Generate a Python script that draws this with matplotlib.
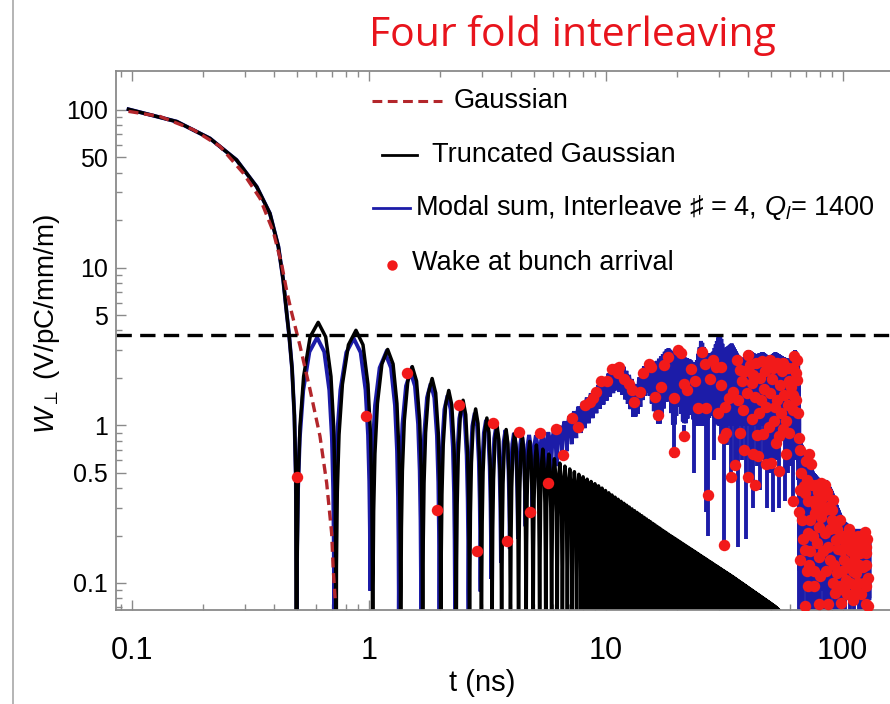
import numpy as np
import matplotlib.pyplot as plt
from matplotlib.lines import Line2D

plt.rcParams['font.family'] = ['Liberation Sans', 'DejaVu Sans']
plt.rcParams['mathtext.fontset'] = 'custom'
plt.rcParams['mathtext.rm'] = 'Liberation Sans'
plt.rcParams['mathtext.it'] = 'Liberation Sans:italic'

# ---- values ----
# Gaussian wake (red dashed)
gauss_t = [0.097, 0.1316, 0.182, 0.236, 0.296, 0.348, 0.396, 0.430, 0.452,
           0.473, 0.513, 0.565, 0.623, 0.665, 0.698, 0.709, 0.722]
gauss_w = [98, 91, 75, 58.8, 39.7, 27.5, 16.9, 10.4, 7.0, 5.2, 3.2, 1.70,
           0.855, 0.431, 0.207, 0.121, 0.08]

# common first descent of truncated Gaussian and modal sum
head_t = [0.097, 0.155, 0.214, 0.277, 0.337, 0.383, 0.416, 0.436, 0.451,
          0.462, 0.475, 0.486, 0.493]
head_w = [101, 84.4, 66, 48.2, 32.6, 22.1, 13.6, 8.35, 5.13, 3.7, 2.3,
          1.15, 0.45]

# truncated Gaussian: zeros, lobe spacing and lobe-top envelope
trunc_zeros = [0.497, 0.728, 1.04]
trunc_end = 58
lobe_step = 0.325
trunc_top_t = [0.593, 0.866, 1.198, 1.49, 1.845, 2.17, 2.81, 3.36, 4.3,
               5.28, 6.42, 9.46, 18.1, 34.5, 51.8, 60]
trunc_top_w = [4.54, 4.08, 3.04, 2.41, 1.99, 1.67, 1.28, 1.03, 0.86,
               0.73, 0.574, 0.408, 0.207, 0.109, 0.071, 0.058]

# modal sum: zeros, upper and lower envelope of the beating, deep dips
modal_zeros = [0.497, 0.715, 1.015]
modal_end = 130
modal_hi_t = [0.585, 0.85, 1.17, 1.49, 1.82, 2.15, 2.8, 3.4, 4.0, 5.0, 6.0,
              6.8, 7.8, 9.0, 10.2, 11.0, 11.8, 12.8, 13.4, 14.3, 15.2, 16.2,
              17.0, 18.3, 19.3, 20.3, 21.5, 22.8, 24.0, 25.3, 26.5, 28.4,
              30.3, 31.5, 34.0, 36, 38, 40, 43, 46, 49, 52, 56, 60, 63, 65,
              65.8, 70, 75, 80, 85, 90, 95, 100, 110, 120, 127, 130]
modal_hi_w = [3.6, 3.6, 2.86, 2.2, 1.85, 1.55, 1.2, 1.0, 0.9, 0.86, 0.92,
              1.08, 1.35, 1.7, 2.1, 2.45, 2.4, 2.0, 1.75, 2.3, 2.6, 2.5,
              2.7, 3.1, 2.9, 3.2, 2.7, 2.6, 2.4, 3.5, 2.8, 2.9,
              3.9, 3.0, 3.3, 2.8, 2.6, 3.0, 2.8, 2.9, 2.7, 2.9, 2.7, 2.6, 3.0,
              2.6, 0.8, 0.65, 0.5, 0.45, 0.45, 0.38, 0.3, 0.25, 0.22, 0.22,
              0.22, 0.18]
modal_lo_t = [0.5, 0.72, 1.0, 1.35, 1.6, 2.4, 2.6, 2.9, 3.2, 3.6, 4.2, 4.8,
              5.5, 6.4, 7.2, 8.2, 9.2, 10.2, 11.0, 11.8, 12.8, 13.3, 14.3,
              15.2, 16.2, 16.7, 17.7, 18.5, 19.4, 20.3, 21.5, 22.8, 24, 26,
              28, 30, 35, 40, 45, 50, 55, 60, 65, 65.8, 70, 80, 90, 100, 110,
              120, 130]
modal_lo_w = [0.03, 0.11, 0.12, 0.07, 0.04, 0.05, 0.075, 0.095, 0.11, 0.15,
              0.2, 0.28, 0.45, 0.62, 0.8, 1.0, 1.25, 1.5, 1.7, 1.6, 1.3, 1.1,
              1.5, 1.7, 1.2, 1.0, 1.4, 1.6, 1.0, 1.5, 1.0, 1.3, 1.0, 1.0,
              1.2, 1.0, 1.0, 1.0, 1.0, 1.0, 1.0, 1.0, 1.0, 0.12, 0.1, 0.09,
              0.09, 0.08, 0.08, 0.08, 0.08]
dip_t = [19.4, 21.5, 23.5, 24.6, 26.5, 26.9, 28.7, 30.8, 31.6, 32.5, 33.9,
         35.0, 36.2, 37.5, 39.0, 40.5, 42.0, 43.5, 45.0, 46.5, 47.8, 49.5,
         51.0, 52.5, 54.0, 55.5, 57, 58.5, 60, 61.5, 63, 64.5, 65.5,
         66.5, 68, 70.5, 72, 74, 76.5, 78, 80, 83, 86, 88, 92, 95, 98, 102,
         107, 112, 117, 121, 125, 128]
dip_w = [0.62, 0.8, 0.5, 1.0, 0.28, 0.2, 0.6, 0.8, 0.17, 0.75, 0.45,
         0.55, 0.17, 0.6, 0.19, 0.45, 0.3, 0.55, 0.39, 0.6, 0.3, 0.5,
         0.28, 0.6, 0.3, 0.8, 0.33, 0.5, 0.55, 0.33, 0.6, 0.45, 0.04,
         0.04, 0.04, 0.04, 0.04, 0.04, 0.05, 0.04, 0.05, 0.04, 0.06, 0.05,
         0.04, 0.04, 0.05, 0.04, 0.05, 0.04, 0.04, 0.05, 0.04, 0.04]

# wake at bunch arrival (red dots)
dots_t = [0.497, 0.971, 1.446, 1.935, 2.41, 2.87, 3.36, 3.82, 4.32, 4.79,
          5.28, 5.7, 6.2, 6.6, 7.2, 7.66, 8.18, 8.59, 8.87, 9.14, 9.58, 10.1,
          10.6, 10.9, 11.3, 11.4, 12.0, 12.6, 12.9, 13.2, 13.9, 14.4, 15.2,
          15.6, 16.2, 16.7, 17.2, 17.7, 18.3, 19.4, 19.4, 20.1, 20.7, 21.3,
          21.5, 22.1, 22.8, 23.9, 24.6, 25.6, 26.2, 26.5, 26.9, 27.5, 28.4,
          29.3, 29.9, 30.8, 30.8, 31.2, 31.6, 32.0, 32.3, 33.2, 33.9, 34.5,
          35.0, 36.9, 38.1, 40.0, 40.0, 40.6, 42.0, 42.0, 42.8, 43.5, 44.3,
          45.8, 46.5, 47.3, 48.1, 48.8, 50.4, 51.3, 52.2, 53.0, 53.9, 55.6,
          56.6, 57.6, 57.6, 60.5, 61.5, 61.5, 62.5, 63.4, 63.4, 64.4, 65.3,
          65.3, 66.3, 66.3, 66.3, 68.4, 69.2, 69.2, 69.2, 70.0, 71.3, 71.3,
          71.3, 72.2, 72.2, 73.5, 74.6, 76.0, 76.3, 77.3, 79.5, 79.5, 79.5,
          81.2, 81.2, 83.9, 83.9, 86.8, 86.8, 87, 89.8, 90.9, 91, 93, 93.7,
          95, 99.5, 101, 101, 103, 111, 111, 114, 114, 114, 118, 122, 124,
          126, 126, 126, 126, 128, 128,
          35.7, 37.5, 38.8, 39.3, 41.3, 41.3, 43.0, 44.9, 45.2, 47.0, 47.7,
          49.5, 49.5, 50.9, 51.8, 52.6, 54.5, 55.0, 56.0, 56.2, 58.5, 58.5,
          59.5, 59.5, 62.0, 62.0, 63.9, 64.6, 36.2, 37.0, 44.0, 46.0, 50.0,
          54.0, 38.5, 42.5,
          67, 67.5, 68, 70.5, 70.5, 73, 73, 74, 75, 75.5, 77, 78, 78.5, 80.3,
          80.5, 82.5, 82.5, 84.5, 85, 85.5, 88, 88.5, 90, 92, 92, 94.5, 96,
          97, 97.5, 99, 100, 103, 105, 106, 107, 108, 109, 110, 112, 116,
          116, 117, 120, 120, 122, 123, 125, 127, 104, 98]
dots_w = [0.47, 1.15, 2.14, 0.289, 1.35, 0.16, 1.04, 0.185, 0.91, 0.283,
          0.89, 0.43, 0.95, 0.65, 1.11, 0.98, 1.35, 1.41, 1.48, 1.63, 1.90,
          1.90, 2.29, 2.29, 2.14, 2.36, 1.98, 1.84, 1.67, 1.41, 1.63, 2.14,
          2.45, 2.36, 1.52, 1.16, 1.76, 2.41, 2.72, 1.48, 0.68, 3.0, 2.86,
          1.84, 0.85, 1.67, 2.29, 1.90, 1.28, 2.92, 2.45, 1.28, 0.36, 1.98,
          2.6, 2.36, 1.19, 1.80, 2.36, 0.83, 0.174, 1.31, 0.89, 1.48, 0.47,
          1.63, 0.56, 2.25, 1.25, 2.79, 0.47, 2.41, 2.08, 0.66, 1.52, 0.87,
          1.19, 2.54, 1.71, 0.57, 2.41, 0.98, 1.98, 1.07, 0.77, 1.45, 0.51,
          2.2, 1.56, 1.07, 0.66, 1.76, 1.25, 0.33, 2.75, 2.14, 1.45, 1.94,
          0.83, 0.28, 0.70, 0.39, 0.14, 0.41, 0.37, 0.162, 0.071, 0.59, 0.33,
          0.207, 0.095, 0.66, 0.13, 0.57, 0.33, 0.095, 0.277, 0.42, 0.228,
          0.147, 0.074, 0.43, 0.263, 0.42, 0.207, 0.305, 0.17, 0.074, 0.25,
          0.335, 0.1, 0.086, 0.186, 0.115, 0.162, 0.14, 0.09, 0.104, 0.197,
          0.078, 0.178, 0.115, 0.09, 0.154, 0.127, 0.212, 0.154, 0.17, 0.095,
          0.074, 0.107, 0.071,
          2.6, 1.9, 2.2, 1.6, 1.85, 1.1, 2.5, 2.0, 1.45, 2.2, 1.3, 2.6, 1.6,
          2.3, 1.3, 2.5, 1.8, 1.2, 2.5, 0.95, 2.3, 1.35, 1.9, 0.9, 2.3, 1.55,
          2.6, 1.2, 1.45, 0.9, 0.64, 0.88, 0.58, 0.85, 0.7, 0.42,
          0.5, 0.25, 0.19, 0.45, 0.12, 0.25, 0.16, 0.42, 0.2, 0.12, 0.31,
          0.18, 0.38, 0.32, 0.11, 0.35, 0.16, 0.29, 0.12, 0.38, 0.22, 0.14,
          0.29, 0.24, 0.13, 0.22, 0.165, 0.25, 0.095, 0.12, 0.2, 0.18, 0.13,
          0.22, 0.1, 0.16, 0.2, 0.12, 0.14, 0.2, 0.1, 0.13, 0.18, 0.085, 0.2,
          0.1, 0.13, 0.19, 0.085, 0.075]

threshold = 3.75

BLUE = '#1c1ca8'
RED_DOT = '#f21a1a'
RED_LINE = '#b3262b'


def env(t, kt, kw):
    return np.exp(np.interp(np.log(t), np.log(kt), np.log(kw)))


def lobes(zeros, end, top_t, top_w, lo_t=None, lo_w=None):
    bounds = np.concatenate([zeros, np.arange(zeros[-1] + lobe_step, end, lobe_step)])
    frac = np.array([0, .01, .03, .07, .15, .3, .5, .7, .85, .93, .97, .99, 1])
    ts, ws = [], []
    for a, b in zip(bounds[:-1], bounds[1:]):
        mid = 0.5 * (a + b)
        h = env(mid, top_t, top_w)
        l = 0.0 if lo_t is None else env(mid, lo_t, lo_w)
        ts.append(a + (b - a) * frac)
        ws.append(l + (h - l) * np.sin(np.pi * frac))
    return np.concatenate(ts), np.maximum(np.concatenate(ws), 1e-4)


fig = plt.figure(figsize=(8.9, 7.04), dpi=100)
ax = fig.add_axes([116 / 890, 94 / 704, 784 / 890, 539.5 / 704])
ax.set_xscale('log')
ax.set_yscale('log')

# modal sum
mt, mw = lobes(modal_zeros, modal_end, modal_hi_t, modal_hi_w, modal_lo_t, modal_lo_w)
ax.plot(np.concatenate([head_t, mt]), np.concatenate([head_w, mw]),
        color=BLUE, lw=2.8, solid_joinstyle='miter')
dip_t = np.array(dip_t)
ax.vlines(dip_t, dip_w, env(dip_t, modal_lo_t, modal_lo_w), color=BLUE, lw=2.8)

# truncated Gaussian
bt, bw = lobes(trunc_zeros, trunc_end, trunc_top_t, trunc_top_w)
ax.plot(np.concatenate([head_t, bt]), np.concatenate([head_w, bw]),
        color='black', lw=2.5)

# Gaussian
ax.plot(gauss_t, gauss_w, color=RED_LINE, lw=2.4, dashes=(3.0, 1.7))

ax.axhline(threshold, color='black', lw=2.4, dashes=(4.6, 2.5))

ax.scatter(dots_t, dots_w, s=68, color=RED_DOT, zorder=5, linewidths=0)

ax.set_xticks([0.1, 1, 10, 100])
ax.set_xticklabels(['0.1', '1', '10', '100'])
ax.set_yticks([0.1, 0.5, 1, 5, 10, 50, 100])
ax.set_yticklabels(['0.1', '0.5', '1', '5', '10', '50', '100'])
xminor = [m * 10.0 ** e for e in range(-2, 3) for m in range(2, 10)]
yminor = [m * 10.0 ** e for e in range(-2, 3) for m in (2, 3, 4, 6, 7, 8, 9)]
ax.set_xticks(xminor, minor=True)
ax.set_yticks(yminor, minor=True)
ax.set_xlim(0.0859, 174.5)
ax.set_ylim(0.0674, 178)

ax.tick_params(which='both', direction='in', top=True, right=True,
               color='#8a8a8a', width=1.0)
ax.tick_params(which='major', length=7)
ax.tick_params(which='minor', length=4, labelbottom=False, labelleft=False)
ax.tick_params(axis='x', which='major', labelsize=22, pad=19)
ax.tick_params(axis='y', which='major', labelsize=18, pad=6)
for s in ax.spines.values():
    s.set_color('#8a8a8a')
    s.set_linewidth(1.3)

ax.set_xlabel('t (ns)', fontsize=21)
ax.xaxis.set_label_coords((482 - 116) / 784, (610 - 669) / 539.5)
ax.set_ylabel(r'$W_{\perp}$ (V/pC/mm/m)', fontsize=20)
ax.yaxis.set_label_coords((62 - 116) / 784, 0.53)


def P(x, y):
    return x / 890, 1 - y / 704


# legend (manual, centred entries as in the original)
for (x0, x1, y), kw in [((372, 442, 101), dict(color=RED_LINE, lw=2.2, dashes=(3.2, 1.8))),
                        ((382, 417, 155), dict(color='black', lw=2.0)),
                        ((373, 410, 208), dict(color=BLUE, lw=2.0))]:
    (a, b), (c, d) = P(x0, y), P(x1, y)
    fig.add_artist(Line2D([a, c], [b, d], transform=fig.transFigure, **kw))
fig.add_artist(Line2D([P(392, 265)[0]], [P(392, 265)[1]], marker='o', ms=7.5,
                      color=RED_DOT, mec='none', transform=fig.transFigure))
legend_labels = ['Gaussian', 'Truncated Gaussian',
                 'Modal sum, Interleave \u266f = 4, $Q_l$= 1400',
                 'Wake at bunch arrival']
for lab, (x, y) in zip(legend_labels, [(454, 101), (432, 155), (415, 208), (412, 263)]):
    fig.text(*P(x, y), lab, fontsize=19.5, ha='left', va='center')

fig.text(*P(572, 36), 'Four fold interleaving', fontsize=29.5, color='#e8141c',
         family='Open Sans', ha='center', va='center')

fig.add_artist(Line2D([12.5 / 890] * 2, [0, 1], color='#a8a8a8', lw=1.2,
                      transform=fig.transFigure))

fig.savefig('out.png', dpi=100)
